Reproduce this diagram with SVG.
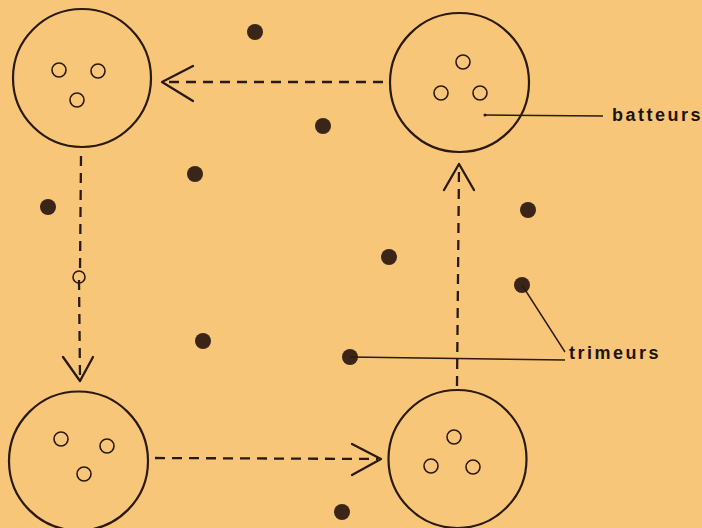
<svg xmlns="http://www.w3.org/2000/svg" width="702" height="528" viewBox="0 0 702 528">
<style>
.big{fill:none;stroke:#2b1a10;stroke-width:2.2}
.small{fill:none;stroke:#2b1a10;stroke-width:1.6}
.dot{fill:#3b2418}
.dash{fill:none;stroke:#2b1a10;stroke-width:2.3;stroke-dasharray:10 7}
.head{fill:none;stroke:#2b1a10;stroke-width:2.3;stroke-linecap:round;stroke-linejoin:round}
.lead{fill:none;stroke:#2b1a10;stroke-width:1.4}
.lbl{font-family:"Liberation Sans",Arial,sans-serif;font-weight:bold;font-size:18px;letter-spacing:2.5px;fill:#1e140c}
</style>
<rect width="702" height="528" fill="#F8C678"/>
<g id="cell-top-left">
<circle class="big" cx="82" cy="78" r="69"/>
<circle class="small" cx="59" cy="70" r="7"/>
<circle class="small" cx="98" cy="71" r="7"/>
<circle class="small" cx="77" cy="100" r="7"/>
</g>
<g id="cell-top-right">
<circle class="big" cx="459.5" cy="82.5" r="69.5"/>
<circle class="small" cx="463" cy="62" r="7"/>
<circle class="small" cx="441" cy="93" r="7"/>
<circle class="small" cx="480" cy="93" r="7"/>
<circle cx="485" cy="115" r="1.5" fill="#2b1a10"/>
</g>
<g id="cell-bottom-left">
<circle class="big" cx="78.5" cy="461" r="69.5"/>
<circle class="small" cx="61" cy="439" r="7"/>
<circle class="small" cx="107" cy="446" r="7"/>
<circle class="small" cx="84" cy="474" r="7"/>
</g>
<g id="cell-bottom-right">
<circle class="big" cx="457.5" cy="459" r="69"/>
<circle class="small" cx="454" cy="437" r="7"/>
<circle class="small" cx="431" cy="466" r="7"/>
<circle class="small" cx="473" cy="467" r="7"/>
</g>
<g id="trimeurs-dots">
<circle class="dot" cx="255" cy="32" r="8"/>
<circle class="dot" cx="323" cy="126" r="8"/>
<circle class="dot" cx="195" cy="174" r="8"/>
<circle class="dot" cx="48" cy="207" r="8"/>
<circle class="dot" cx="528" cy="210" r="8"/>
<circle class="dot" cx="389" cy="257" r="8"/>
<circle class="dot" cx="522" cy="285" r="8"/>
<circle class="dot" cx="203" cy="341" r="8"/>
<circle class="dot" cx="350" cy="357" r="8"/>
<circle class="dot" cx="342" cy="512" r="8"/>
</g>
<g id="migrating-cell">
<circle class="small" cx="79" cy="277" r="6"/>
</g>
<g id="connectors">
<line class="dash" x1="383" y1="82" x2="166" y2="82"/>
<polyline class="head" points="193,66 162,82 193,101"/>
<line class="dash" x1="81" y1="156" x2="80" y2="271"/>
<line class="dash" x1="79" y1="280" x2="80" y2="378"/>
<polyline class="head" points="63,357 80,381 93,357"/>
<line class="dash" x1="155" y1="458" x2="378" y2="459"/>
<polyline class="head" points="352,444 381,459 352,475"/>
<line class="dash" x1="457" y1="386" x2="459" y2="168"/>
<polyline class="head" points="444,190 459,164 474,190"/>
<line class="lead" x1="485" y1="115" x2="603" y2="116"/>
<line class="lead" x1="350" y1="357" x2="565" y2="360"/>
<line class="lead" x1="522" y1="285" x2="565" y2="352"/>
</g>
<g id="labels">
<text class="lbl" x="612" y="121">batteurs</text>
<text class="lbl" x="569" y="359">trimeurs</text>
</g>
</svg>
